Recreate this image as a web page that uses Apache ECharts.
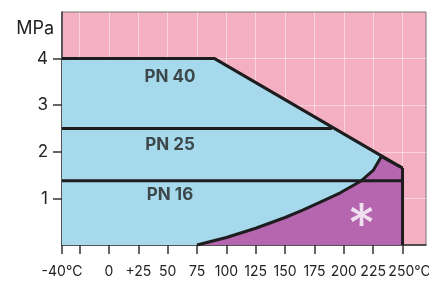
<!DOCTYPE html>
<html>
<head>
<meta charset="utf-8">
<script src="https://cdn.jsdelivr.net/npm/echarts@6/dist/echarts.min.js"></script>
<style>
  html, body { margin: 0; padding: 0; background: #fff; }
  #chart { width: 429px; height: 282px; }
</style>
</head>
<body>
<div id="chart"></div>
<script>
// axis ticks / labels
const xTicks = [-40, -25, 0, 25, 50, 75, 100, 125, 150, 175, 200, 225, 250];
const xLabelValues = [-40, 0, 25, 50, 75, 100, 125, 150, 175, 200, 225, 250];
const xLabelText = ['-40°C', '0', '+25', '50', '75', '100', '125', '150', '175', '200', '225', '250°C'];
const yTicks = [1, 2, 3, 4];

// pressure class limits (°C, MPa)
const pn40 = [[-40, 4], [90, 4], [250, 1.65]];
const pn25 = [[-40, 2.5], [190, 2.5]];
const pn16 = [[-40, 1.38], [250, 1.38]];
const limit250 = [[250, 0], [250, 1.65]];
// lower boundary of the * zone
const curve = [[75, 0], [100, 0.16], [125, 0.36], [150, 0.59], [165, 0.75], [180, 0.92], [197, 1.12], [215, 1.38], [225, 1.6], [232, 1.9], [250, 1.65]];

const classNames = ['PN 40', 'PN 25', 'PN 16'];
const classPos = [[52, 3.6], [52, 2.14], [52, 1.07]];
const markText = '*';
const markPos = [215, 0.65];

const FONT = 'Inter, "Noto Sans", sans-serif';
const BLACK = '#1d1d1f';

const chart = echarts.init(document.getElementById('chart'));

const blackLine = (data) => ({
  type: 'line',
  data,
  symbol: 'none',
  silent: true,
  lineStyle: { color: BLACK, width: 3, cap: 'butt' },
  z: 5
});

const option = {
  animation: false,
  textStyle: { fontFamily: FONT },
  grid: {
    left: 62, right: 3, top: 12, bottom: 37,
    outerBoundsMode: 'none',
    containLabel: false,
    show: true,
    backgroundColor: '#f4afc2',
    borderColor: '#777',
    borderWidth: 1
  },
  xAxis: {
    type: 'value',
    min: -40,
    max: 270,
    axisLine: { lineStyle: { color: '#333', width: 1.5 } },
    axisTick: { customValues: xTicks, length: 9, lineStyle: { color: '#333', width: 1.5 } },
    axisLabel: {
      customValues: xLabelValues,
      color: '#222',
      fontSize: 14,
      fontFamily: FONT,
      margin: 20,
      formatter: (v) => {
        const s = xLabelText[xLabelValues.indexOf(v)];
        return v === 250 ? '{r|' + s + '}' : s;
      },
      rich: { r: { fontSize: 14, fontFamily: FONT, color: '#222', padding: [0, 0, 0, 14] } }
    },
    splitLine: { show: true, lineStyle: { color: 'rgba(255,255,255,0.45)', width: 1 } }
  },
  yAxis: {
    type: 'value',
    min: 0,
    max: 5,
    interval: 1,
    name: 'MPa',
    nameLocation: 'end',
    nameGap: -17,
    nameTextStyle: { color: '#222', fontSize: 18, fontFamily: FONT, align: 'right', verticalAlign: 'middle', padding: [0, 8, 0, 0] },
    axisLine: { show: true, onZero: false, lineStyle: { color: '#333', width: 1.5 } },
    axisTick: { show: true, customValues: yTicks, length: 9, lineStyle: { color: '#333', width: 1.5 } },
    axisLabel: { customValues: yTicks, color: '#222', fontSize: 17, fontFamily: FONT, margin: 14 },
    splitLine: { show: true, lineStyle: { color: 'rgba(255,255,255,0.45)', width: 1 } }
  },
  series: [
    {
      type: 'line',
      data: pn40,
      symbol: 'none',
      silent: true,
      lineStyle: { color: BLACK, width: 3, cap: 'butt' },
      areaStyle: { color: '#a5d9eb', opacity: 1 },
      z: 2
    },
    {
      type: 'line',
      data: curve,
      symbol: 'none',
      silent: true,
      lineStyle: { color: BLACK, width: 3, cap: 'butt', join: 'round' },
      areaStyle: { color: '#b566ae', opacity: 1 },
      z: 3
    },
    blackLine(pn25),
    blackLine(pn16),
    blackLine(limit250),
    {
      type: 'scatter',
      symbolSize: 0,
      silent: true,
      data: classNames.map((n, i) => ({ name: n, value: classPos[i] })),
      label: {
        show: true,
        position: 'inside',
        formatter: '{b}',
        color: '#222',
        fontSize: 17,
        fontWeight: 'bold',
        fontFamily: FONT
      },
      z: 6
    },
    {
      type: 'scatter',
      symbolSize: 0,
      silent: true,
      data: [{ name: markText, value: markPos }],
      label: {
        show: true,
        position: 'inside',
        formatter: '{b}',
        color: '#fff',
        fontSize: 56,
        fontFamily: FONT,
        offset: [0, 12]
      },
      z: 6
    }
  ]
};

chart.setOption(option);
</script>
</body>
</html>
